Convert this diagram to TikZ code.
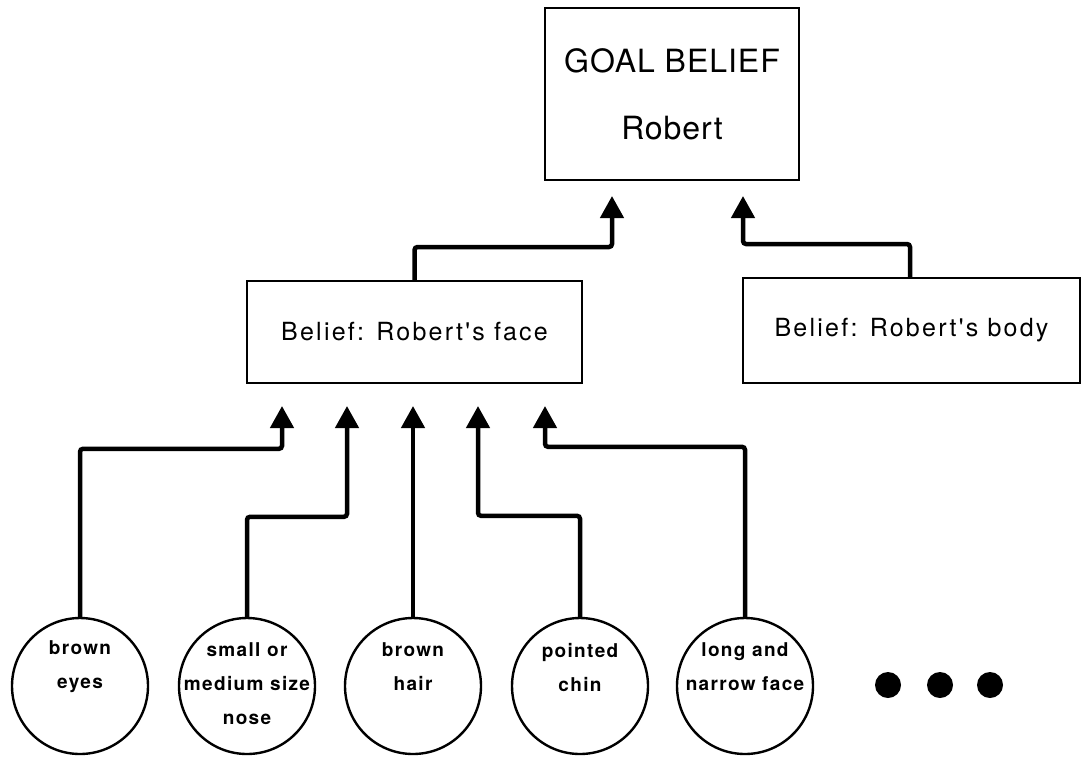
\documentclass[tikz,border=0pt]{standalone}
\usepackage{fontspec}
\setmainfont{TeX Gyre Heros}
\newfontfamily\goalfont[LetterSpace=3]{TeX Gyre Heros}
\newfontfamily\boxfont[LetterSpace=9]{TeX Gyre Heros}
\newfontfamily\cuefont[LetterSpace=7]{TeX Gyre Heros}
\usetikzlibrary{arrows.meta,calc}
\begin{document}
\begin{tikzpicture}[x=1pt,y=-1pt,
  beliefbox/.style={draw,line width=2pt,rectangle,inner sep=0pt,align=center},
  cue/.style={draw,line width=2.4pt,circle,minimum size=136pt,inner sep=0pt},
  cuetext/.style={font=\cuefont\bfseries\fontsize{19}{34}\selectfont,align=center,inner sep=0pt},
  conn/.style={line width=4.5pt,rounded corners=3pt,-{Triangle[width=23pt,length=22pt]}},
  dot/.style={circle,fill=black,minimum size=26pt,inner sep=0pt}]
\useasboundingbox (0,0) rectangle (1083,756);

% belief nodes
\node[beliefbox,minimum width=254pt,minimum height=172pt,
      font=\goalfont\fontsize{32}{67}\selectfont] (goal) at (672,94) {GOAL BELIEF\\Robert};
\node[beliefbox,minimum width=335pt,minimum height=102pt,
      font=\boxfont\fontsize{25}{28}\selectfont] (face) at (414.5,332) {Belief: Robert's face};
\node[beliefbox,minimum width=337pt,minimum height=105pt,
      font=\boxfont\fontsize{25}{28}\selectfont] (body) at (911.5,330.5) {Belief: Robert's body};

% feature nodes
\node[cue] (c1) at (80,686) {};
\node[cue] (c2) at (247,686) {};
\node[cue] (c3) at (413,686) {};
\node[cue] (c4) at (580,686) {};
\node[cue] (c5) at (745,686) {};
\node[cuetext] (t1) at (80,667) {brown\\eyes};
\node[cuetext] (t2) at (247,684) {small or\\medium size\\nose};
\node[cuetext] (t3) at (413,667) {brown\\hair};
\node[cuetext] (t4) at (580,667) {pointed\\chin};
\node[cuetext] (t5) at (745,667) {long and\\narrow face};

\node[dot] (d1) at (888,685) {};
\node[dot] (d2) at (940,685) {};
\node[dot] (d3) at (990,685) {};

% feature -> face belief
\draw[conn,shorten >=22pt] (c1.north) -- ++(0,-168) -| ([xshift=-132.5pt]face.south);
\draw[conn,shorten >=22pt] (c2.north) -- ++(0,-100) -| ([xshift=-67.5pt]face.south);
\draw[conn,shorten >=22pt] (c3.north) -- (c3.north |- face.south);
\draw[conn,shorten >=22pt] (c4.north) -- ++(0,-101) -| ([xshift=63.5pt]face.south);
\draw[conn,shorten >=22pt] (c5.north) -- ++(0,-170) -| ([xshift=130.5pt]face.south);

% beliefs -> goal belief
\draw[conn,shorten >=15pt] (face.north) -- ++(0,-33) -| ([xshift=-60pt]goal.south);
\draw[conn,shorten >=15pt] ([xshift=-1.5pt]body.north) -- ++(0,-33) -| ([xshift=71pt]goal.south);
\end{tikzpicture}
\end{document}
